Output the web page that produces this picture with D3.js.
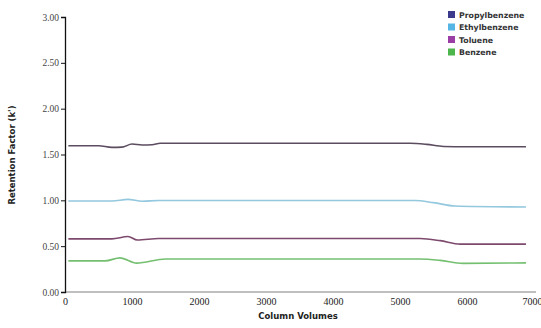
<!DOCTYPE html>
<html><head><meta charset="utf-8">
<script src="https://cdn.jsdelivr.net/npm/d3@7"></script>
<style>body{margin:0;background:#fff}svg{display:block}</style>
</head><body><svg id="c" width="541" height="328"></svg>
<script>
const seriesNames = ["Propylbenzene", "Ethylbenzene", "Toluene", "Benzene"];
const legendColors = ["#3b3a8c", "#55b6e6", "#9a3ea6", "#4cb64c"];
const lineColors = ["#5c4c60", "#93c8de", "#7d4a6e", "#74c070"];
const yTicks = [0, 0.5, 1, 1.5, 2, 2.5, 3];
const xTicks = [0, 1000, 2000, 3000, 4000, 5000, 6000, 7000];
const propylbenzene = [[50,1.596],[500,1.596],[700,1.578],[850,1.580],[1000,1.614],[1150,1.604],[1300,1.606],[1420,1.622],[5150,1.622],[5400,1.610],[5650,1.588],[6000,1.585],[6880,1.585]];
const ethylbenzene = [[50,0.993],[700,0.993],[940,1.010],[1150,0.990],[1400,0.998],[5220,0.998],[5500,0.975],[5820,0.938],[6880,0.927]];
const toluene = [[50,0.580],[700,0.580],[940,0.605],[1080,0.567],[1400,0.583],[5300,0.583],[5600,0.560],[5900,0.522],[6880,0.522]];
const benzene = [[50,0.340],[600,0.340],[820,0.372],[1070,0.315],[1500,0.360],[5300,0.360],[5600,0.345],[5940,0.312],[6880,0.318]];
const seriesData = [propylbenzene, ethylbenzene, toluene, benzene];

const svg = d3.select("#c");
const x = d3.scaleLinear().domain([0, 7000]).range([65, 534]);
const y = d3.scaleLinear().domain([0, 3]).range([292, 17]);

// x axis
const xa = svg.append("g").attr("transform", "translate(0,292)")
  .call(d3.axisBottom(x).tickValues(xTicks).tickFormat(d3.format("d")).tickSize(0).tickPadding(6));
xa.attr("font-family", null);
xa.select(".domain").attr("stroke", "#aaa").attr("stroke-width", 1.5).attr("d", "M65,0H536");
xa.selectAll("text").style("font-family", "'Liberation Serif', serif").style("font-size", "10px").attr("fill", "#222");
xa.selectAll(".tick").filter(d => d === 7000).select("text").attr("dx", "-2");

// y axis
const ya = svg.append("g").attr("transform", "translate(65,0)")
  .call(d3.axisLeft(y).tickValues(yTicks).tickFormat(d3.format(".2f")).tickSize(4).tickPadding(2));
ya.select(".domain").attr("stroke", "#111").attr("stroke-width", 1.3);
ya.selectAll("line").attr("stroke", "#111");
ya.selectAll("text").style("font-family", "'Liberation Serif', serif").style("font-size", "9.5px").attr("fill", "#444");

// lines
const line = d3.line().x(d => x(d[0])).y(d => y(d[1])).curve(d3.curveMonotoneX);
seriesData.forEach((s, i) => {
  svg.append("path").datum(s).attr("d", line).attr("fill", "none")
    .attr("stroke", lineColors[i]).attr("stroke-width", 1.6);
});

// axis titles
svg.append("text").attr("x", 298).attr("y", 319).attr("text-anchor", "middle")
  .attr("font-family", "DejaVu Sans, sans-serif").attr("font-weight", "bold").attr("font-size", 8.5)
  .attr("fill", "#222").text("Column Volumes");
svg.append("text").attr("transform", "translate(15,155) rotate(-90)").attr("text-anchor", "middle")
  .attr("font-family", "DejaVu Sans, sans-serif").attr("font-weight", "bold").attr("font-size", 8.5)
  .attr("fill", "#222").text("Retention Factor (k')");

// legend
const lg = svg.append("g");
seriesNames.forEach((n, i) => {
  const yy = 15 + i * 12.5;
  lg.append("rect").attr("x", 448).attr("y", yy - 4).attr("width", 7).attr("height", 7).attr("fill", legendColors[i]);
  lg.append("text").attr("x", 459).attr("y", yy + 2.5).attr("font-family", "DejaVu Sans, sans-serif")
    .attr("font-weight", "bold").attr("font-size", 7.8).attr("fill", "#333").text(n);
});
</script></body></html>
